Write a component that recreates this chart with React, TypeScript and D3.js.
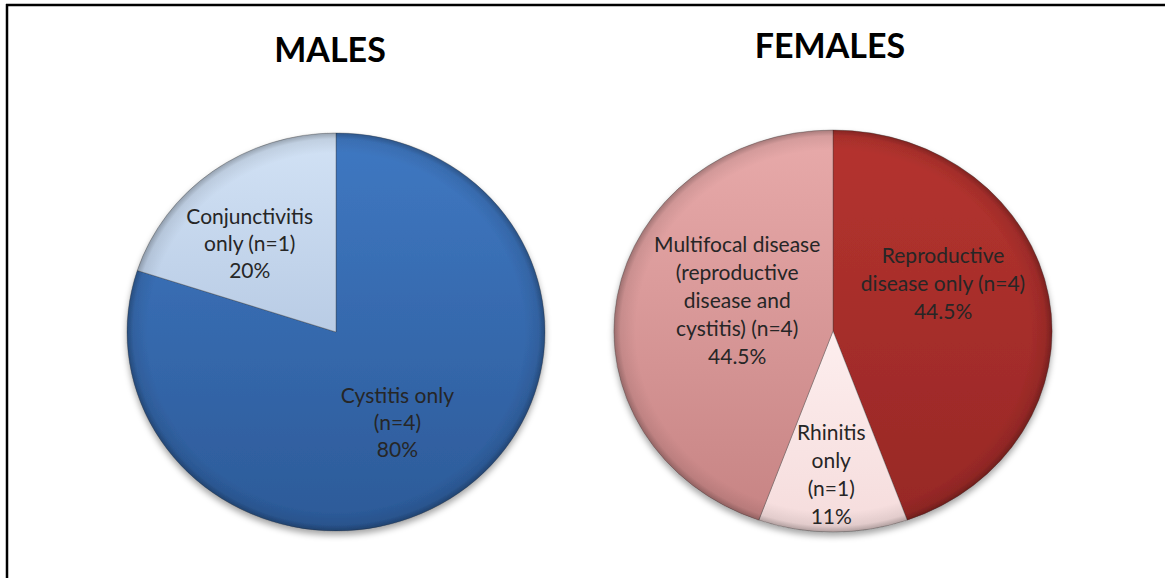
import React from "react";
import * as d3 from "d3";

const maleCategories = ["Cystitis only (n=4)", "Conjunctivitis only (n=1)"];
const maleValues = [80, 20];
const maleLabelLines = [
  ["Cystitis only", "(n=4)", "80%"],
  ["Conjunctivitis", "only (n=1)", "20%"],
];

const femaleCategories = [
  "Reproductive disease only (n=4)",
  "Rhinitis only (n=1)",
  "Multifocal disease (reproductive disease and cystitis) (n=4)",
];
const femaleValues = [44.5, 11, 44.5];
const femaleLabelLines = [
  ["Reproductive", "disease only (n=4)", "44.5%"],
  ["Rhinitis", "only", "(n=1)", "11%"],
  ["Multifocal disease", "(reproductive", "disease and", "cystitis) (n=4)", "44.5%"],
];

const titles = ["MALES", "FEMALES"];

type PieSpec = {
  id: string;
  title: string;
  titleX: number;
  titleY: number;
  cx: number;
  cy: number;
  rx: number;
  ry: number;
  values: number[];
  categories: string[];
  lines: string[][];
  colors: [string, string][];
  label: [number, number, number][]; // k, dx, dy (normalized)
  lineH: number;
};

const specs: PieSpec[] = [
  {
    id: "m",
    title: titles[0],
    titleX: 330,
    titleY: 62,
    cx: 336,
    cy: 332,
    rx: 209,
    ry: 199,
    values: maleValues,
    categories: maleCategories,
    lines: maleLabelLines,
    colors: [
      ["#3f78c2", "#2c5a98"],
      ["#d2e2f5", "#b9cce5"],
    ],
    label: [
      [0.5, 0.0, 0.05],
      [0.6, -0.06, 0.04],
    ],
    lineH: 27,
  },
  {
    id: "f",
    title: titles[1],
    titleX: 830,
    titleY: 58,
    cx: 833,
    cy: 331,
    rx: 219,
    ry: 201,
    values: femaleValues,
    categories: femaleCategories,
    lines: femaleLabelLines,
    colors: [
      ["#b5332f", "#972826"],
      ["#fdeeee", "#f5dcdc"],
      ["#e8aaaa", "#c78484"],
    ],
    label: [
      [0.5, 0.01, -0.15],
      [0.716, -0.008, 0],
      [0.44, -0.004, -0.075],
    ],
    lineH: 28,
  },
];

function Pie({ s }: { s: PieSpec }) {
  const pie = d3.pie<number>().sort(null).value((d) => d)(s.values);
  const arc = d3.arc<d3.PieArcDatum<number>>().innerRadius(0).outerRadius(1);
  return (
    <g>
      <text
        x={s.titleX}
        y={s.titleY}
        textAnchor="middle"
        fontFamily="Lato, 'Open Sans', sans-serif"
        fontWeight={700}
        fontSize={34}
        fill="#000"
      >
        {s.title}
      </text>
      <g filter="url(#shadow)">
        <g transform={`translate(${s.cx},${s.cy}) scale(${s.rx},${s.ry})`}>
          {pie.map((p, i) => (
            <path
              key={i}
              d={arc(p) || ""}
              fill={`url(#${s.id}g${i})`}
              stroke="rgba(60,60,60,0.35)"
              strokeWidth={1}
              vectorEffect="non-scaling-stroke"
            />
          ))}
          <ellipse cx={0} cy={0} rx={1} ry={1} fill="url(#bevel)" />
        </g>
      </g>
      {pie.map((p, i) => {
        const mid = (p.startAngle + p.endAngle) / 2;
        const [k, dx, dy] = s.label[i];
        const nx = Math.sin(mid) * k + dx;
        const ny = -Math.cos(mid) * k + dy;
        const x = s.cx + nx * s.rx;
        const y = s.cy + ny * s.ry;
        const lines = s.lines[i];
        const y0 = y - ((lines.length - 1) * s.lineH) / 2;
        return (
          <text
            key={i}
            textAnchor="middle"
            fontFamily="Lato, 'Open Sans', sans-serif"
            fontSize={21}
            fill="#262626"
          >
            {lines.map((t, j) => (
              <tspan key={j} x={x} y={y0 + j * s.lineH} dy="0.35em">
                {t}
              </tspan>
            ))}
          </text>
        );
      })}
    </g>
  );
}

export default function App() {
  return (
    <svg
      width={1165}
      height={578}
      style={{ position: "absolute", left: 0, top: 0, background: "#fff" }}
    >
      <defs>
        <filter id="shadow" x="-10%" y="-10%" width="120%" height="125%">
          <feDropShadow dx={0} dy={4} stdDeviation={3} floodColor="#000" floodOpacity={0.35} />
        </filter>
        <radialGradient id="bevel" cx="0.5" cy="0.5" r="0.5">
          <stop offset="0.9" stopColor="#000" stopOpacity={0} />
          <stop offset="0.97" stopColor="#000" stopOpacity={0.08} />
          <stop offset="1" stopColor="#000" stopOpacity={0.28} />
        </radialGradient>
        {specs.map((s) =>
          s.colors.map((c, i) => (
            <linearGradient key={s.id + i} id={`${s.id}g${i}`} x1="0" y1="0" x2="0" y2="1">
              <stop offset="0" stopColor={c[0]} />
              <stop offset="1" stopColor={c[1]} />
            </linearGradient>
          ))
        )}
      </defs>
      <rect x={0} y={0} width={1165} height={578} fill="#fff" />
      <line x1={6} y1={5} x2={1165} y2={5} stroke="#000" strokeWidth={2.5} />
      <line x1={7} y1={4} x2={7} y2={578} stroke="#000" strokeWidth={2.5} />
      {specs.map((s) => (
        <Pie key={s.id} s={s} />
      ))}
    </svg>
  );
}
